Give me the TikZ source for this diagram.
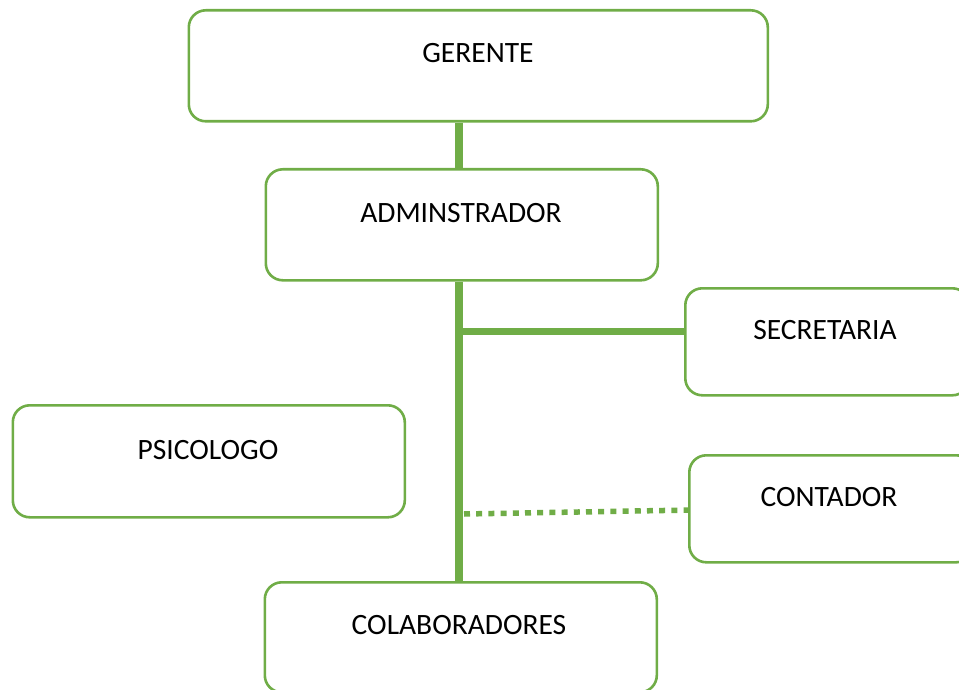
\documentclass[tikz,border=0pt]{standalone}
\usepackage{fontspec}
\setmainfont{Carlito}
\definecolor{orggreen}{HTML}{70AD47}
\tikzset{
  orgbox/.style={draw=orggreen, line width=2.6pt, rounded corners=17pt, fill=white,
    inner sep=0pt, anchor=north west},
  orgtext/.style={font=\fontsize{29.5}{31}\selectfont, text=black, inner sep=0pt},
  spineline/.style={draw=orggreen, line width=8pt},
  branchline/.style={draw=orggreen, line width=7pt},
  dotline/.style={draw=orggreen, line width=5.5pt, dash pattern=on 6pt off 6.2pt},
}
\begin{document}
\begin{tikzpicture}[x=1pt, y=-1pt]
\useasboundingbox (0,0) rectangle (959,690);
\coordinate (spine) at (459,0);
\coordinate (sbranch) at (463,331);
\coordinate (cbranch) at (464,514);
\coordinate (cend) at (692,510);
% boxes
\node[orgbox, minimum width=579pt, minimum height=111pt] (gerente) at (187.5,9) {};
\node[orgbox, minimum width=392pt, minimum height=111pt] (admin) at (264.5,168) {};
\node[orgbox, minimum width=284pt, minimum height=107pt] (secretaria) at (684,287) {};
\node[orgbox, minimum width=392pt, minimum height=112pt] (psicologo) at (11.5,404) {};
\node[orgbox, minimum width=284pt, minimum height=107pt] (contador) at (688,454) {};
\node[orgbox, minimum width=392pt, minimum height=110pt] (colab) at (263.5,581) {};
% connectors
\draw[spineline] (gerente.south -| spine) -- (admin.north -| spine);
\draw[spineline] (admin.south -| spine) -- (colab.north -| spine);
\draw[branchline] (sbranch) -- (sbranch -| secretaria.west);
\draw[dotline] (cbranch) -- (cend);
% texts
\node[orgtext] (tgerente) at (478,53) {GERENTE};
\node[orgtext] (tadmin) at (461,213) {ADMINSTRADOR};
\node[orgtext] (tsecretaria) at (825,330) {SECRETARIA};
\node[orgtext] (tpsicologo) at (208,450) {PSICOLOGO};
\node[orgtext] (tcontador) at (829,497) {CONTADOR};
\node[orgtext] (tcolab) at (459,625) {COLABORADORES};
\end{tikzpicture}
\end{document}
